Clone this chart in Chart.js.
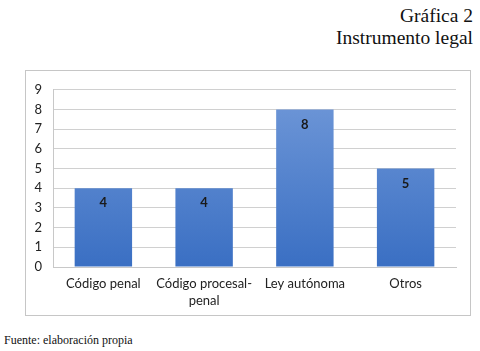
<!DOCTYPE html>
<html>
<head>
<meta charset="utf-8">
<script src="https://cdn.jsdelivr.net/npm/chart.js@4/dist/chart.umd.min.js"></script>
<style>
  html, body { margin: 0; padding: 0; background: #fff; }
  body { width: 480px; height: 351px; position: relative; overflow: hidden; }
  .titulo { position: absolute; right: 7px; top: 5px; text-align: right;
            font-family: "Liberation Serif", serif; font-size: 19.5px; line-height: 22px; color: #111; }
  .marco { position: absolute; left: 25px; top: 70px; width: 444px; height: 244px;
           border: 1px solid #c6c6c6; }
  .fuente { position: absolute; left: 4px; top: 333px;
            font-family: "Liberation Serif", serif; font-size: 12px; color: #111; }
</style>
</head>
<body>
<div class="titulo">Gráfica 2<br>Instrumento legal</div>
<div class="marco"><canvas id="grafica2" width="444" height="244"></canvas></div>
<div class="fuente">Fuente: elaboración propia</div>
<script>
var categorias = ['Código penal', ['Código procesal-', 'penal'], 'Ley autónoma', 'Otros'];
var valores = [4, 4, 8, 5];
var ticksY = [0, 1, 2, 3, 4, 5, 6, 7, 8, 9];

var etiquetasBarras = {
    id: 'etiquetasBarras',
    afterDatasetsDraw: (chart) => {
        const ctx = chart.ctx;
        const meta = chart.getDatasetMeta(0);
        ctx.save();
        ctx.font = 'bold 13px Lato';
        ctx.fillStyle = '#1a1a1a';
        ctx.textAlign = 'center';
        ctx.textBaseline = 'middle';
        meta.data.forEach((bar, i) => {
            ctx.fillText(String(valores[i]), bar.x, bar.y + 15);
        });
        ctx.restore();
    }
};

var grafica2 = new Chart(document.getElementById('grafica2'), {
    type: 'bar',
    data: {
        labels: categorias,
        datasets: [{
            data: valores,
            backgroundColor: (c) => {
                const area = c.chart.chartArea;
                if (!area) return '#4a7cc9';
                const g = c.chart.ctx.createLinearGradient(0, area.top, 0, area.bottom);
                g.addColorStop(0, '#7098d8');
                g.addColorStop(1, '#3a6fc3');
                return g;
            },
            borderWidth: 0,
            categoryPercentage: 0.57,
            barPercentage: 1.0
        }]
    },
    options: {
        animation: false,
        responsive: false,
        layout: { padding: { top: 16, right: 14, left: 0, bottom: 0 } },
        plugins: {
            legend: { display: false },
            tooltip: { enabled: false }
        },
        scales: {
            x: {
                grid: { display: false, drawTicks: false },
                border: { color: '#c8c8c8' },
                ticks: { padding: 9, maxRotation: 0, minRotation: 0, autoSkip: false,
                         color: '#222', font: { family: 'Lato', size: 13, lineHeight: 1.25 } },
                afterFit: (s) => { s.height = 48; }
            },
            y: {
                min: 0,
                max: 9,
                afterBuildTicks: (s) => { s.ticks = ticksY.map(v => ({ value: v })); },
                grid: { color: '#d0d0d0', drawTicks: false },
                border: { color: '#c8c8c8' },
                ticks: { padding: 11, color: '#222', font: { family: 'Lato', size: 13 } },
                afterFit: (s) => { s.width = 27; }
            }
        }
    },
    plugins: [etiquetasBarras]
});
</script>
</body>
</html>
